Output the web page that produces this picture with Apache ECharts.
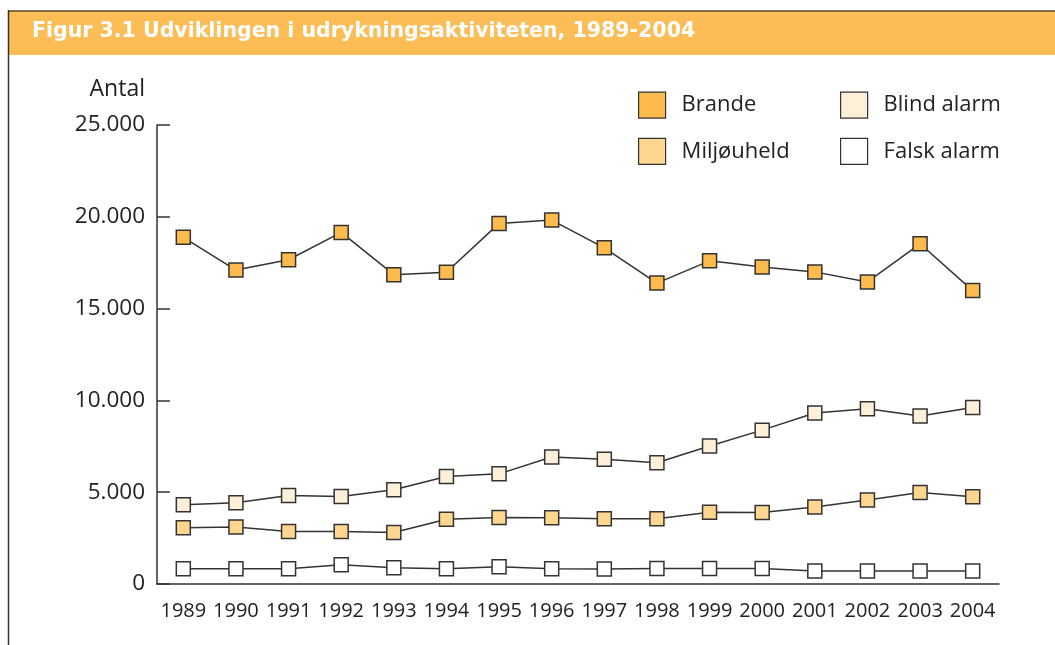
<!DOCTYPE html>
<html>
<head>
<meta charset="utf-8">
<script src="https://cdn.jsdelivr.net/npm/echarts@6/dist/echarts.min.js"></script>
<style>
html,body{margin:0;padding:0;background:#fff;}
#chart{width:1055px;height:645px;}
</style>
</head>
<body>
<div id="chart"></div>
<script>
const years = ['1989','1990','1991','1992','1993','1994','1995','1996','1997','1998','1999','2000','2001','2002','2003','2004'];
const brande = [18880,17100,17660,19150,16850,16980,19640,19820,18310,16390,17600,17260,17000,16450,18530,15980];
const miljouheld = [3070,3100,2860,2860,2810,3530,3620,3610,3560,3550,3910,3890,4190,4580,4980,4750];
const blindAlarm = [4310,4420,4820,4770,5130,5850,6000,6920,6800,6600,7520,8380,9310,9550,9150,9610];
const falskAlarm = [830,830,830,1050,880,830,940,830,820,850,850,840,710,710,710,710];
const yTicks = [0,5000,10000,15000,20000,25000];

const FONT = '"Open Sans", "Noto Sans", sans-serif';
const INK = '#222';
const LINE = '#333';

function fmt(v){ return String(v).replace(/\B(?=(\d{3})+(?!\d))/g, '.'); }

function mk(name, data, fill){
  return {
    name: name, type: 'line', data: data,
    symbol: 'rect', symbolSize: 14,
    lineStyle: {color: LINE, width: 1.5},
    itemStyle: {color: fill, borderColor: LINE, borderWidth: 1.5},
    emphasis: {disabled: true},
    z: 3
  };
}

const legendBase = {
  orient: 'vertical', top: 91.5, padding: 0,
  icon: 'rect', itemWidth: 27, itemHeight: 26, itemGap: 19,
  itemStyle: {borderColor: LINE, borderWidth: 1.2},
  textStyle: {fontFamily: FONT, fontSize: 22, color: INK, padding: [6, 0, 0, 11]},
  selectedMode: false
};

const chart = echarts.init(document.getElementById('chart'), null, {renderer: 'canvas'});
chart.setOption({
  animation: false,
  backgroundColor: '#fff',
  graphic: [
    {type: 'rect', shape: {x: 8, y: 11, width: 1047, height: 44}, style: {fill: '#FDBD56'}, z: 0},
    {type: 'line', shape: {x1: 8, y1: 11, x2: 1055, y2: 11}, style: {stroke: '#5e4422', lineWidth: 1.5}, z: 1},
    {type: 'line', shape: {x1: 8.5, y1: 10, x2: 8.5, y2: 645}, style: {stroke: '#333', lineWidth: 1.5}, z: 1},
    {type: 'text', x: 32, y: 32, z: 2,
      style: {text: 'Figur 3.1 Udviklingen i udrykningsaktiviteten, 1989-2004',
        font: 'bold 20.5px "DejaVu Sans", sans-serif',
        fill: '#fff', textVerticalAlign: 'middle',
        textShadowColor: 'rgba(120,100,80,0.6)', textShadowOffsetX: 1.5, textShadowOffsetY: 1.5, textShadowBlur: 0}},
    {type: 'text', x: 145, y: 89, z: 2,
      style: {text: 'Antal', font: '23px ' + FONT, fill: INK, textAlign: 'right', textVerticalAlign: 'middle'}}
  ],
  legend: [
    Object.assign({data: ['Brande', 'Miljøuheld'], left: 638}, legendBase),
    Object.assign({data: ['Blind alarm', 'Falsk alarm'], left: 840}, legendBase)
  ],
  grid: {left: 157, right: 56, top: 125, bottom: 61, containLabel: false},
  xAxis: {
    type: 'category', data: years, boundaryGap: true,
    axisLine: {lineStyle: {color: LINE, width: 1.5}},
    axisTick: {inside: true, length: 6, lineStyle: {color: LINE, width: 1.5}},
    axisLabel: {fontFamily: FONT, fontSize: 20, color: INK, margin: 17, interval: 0}
  },
  yAxis: {
    type: 'value', min: 0, max: 25000, interval: 5000,
    axisLine: {show: true, lineStyle: {color: LINE, width: 1.5}},
    axisTick: {show: true, inside: true, length: 13, lineStyle: {color: LINE, width: 1.5}},
    splitLine: {show: false},
    axisLabel: {fontFamily: FONT, fontSize: 22.5, color: INK, margin: 12,
      formatter: function(v){ return yTicks.indexOf(v) >= 0 ? fmt(v) : ''; }}
  },
  series: [
    mk('Brande', brande, '#FDBB4E'),
    mk('Miljøuheld', miljouheld, '#FED690'),
    mk('Blind alarm', blindAlarm, '#FEEFD8'),
    mk('Falsk alarm', falskAlarm, '#FFFFFF')
  ]
});
</script>
</body>
</html>
